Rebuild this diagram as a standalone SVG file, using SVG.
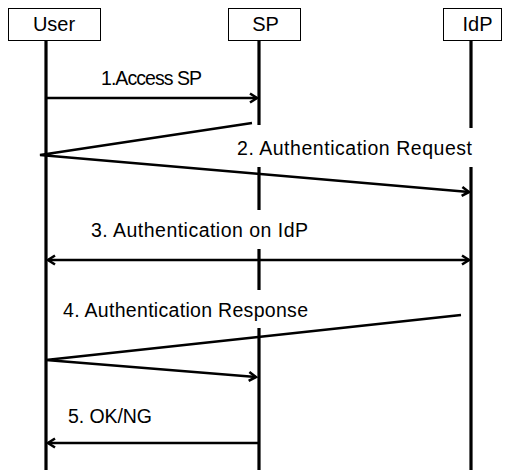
<svg xmlns="http://www.w3.org/2000/svg" width="511" height="470" viewBox="0 0 511 470">
<style>
.box{fill:#fff;stroke:#000;stroke-width:1}
.hd{font-family:"Liberation Sans",Arial,sans-serif;font-size:20px;fill:#000;text-anchor:middle}
.life{stroke:#000;stroke-width:3.2;fill:none}
.msg{stroke:#000;stroke-width:2.6;fill:none;stroke-linejoin:miter}
.lbl{font-family:"Liberation Sans",Arial,sans-serif;font-size:19.5px;fill:#000}
</style>
<defs>
<marker id="ah" viewBox="0 0 12 12" refX="10" refY="6" markerWidth="12" markerHeight="12" markerUnits="userSpaceOnUse" orient="auto-start-reverse">
<polyline points="3,1.5 10,6 3,10.5" fill="none" stroke="#000" stroke-width="2.6"/>
</marker>
</defs>
<g id="user">
<rect class="box" x="8.5" y="8.5" width="92" height="32"/>
<text class="hd" x="54" y="31">User</text>
</g>
<g id="sp">
<rect class="box" x="228.5" y="8.5" width="72" height="32"/>
<text class="hd" x="265.5" y="31">SP</text>
</g>
<g id="idp">
<rect class="box" x="443.5" y="8.5" width="58" height="32"/>
<text class="hd" x="477.5" y="31">IdP</text>
</g>
<g id="lifelines">
<line class="life" x1="46" y1="40" x2="46" y2="470"/>
<line class="life" x1="259" y1="40" x2="259" y2="125"/>
<line class="life" x1="259" y1="167" x2="259" y2="210"/>
<line class="life" x1="259" y1="249" x2="259" y2="290"/>
<line class="life" x1="259" y1="328" x2="259" y2="470"/>
<line class="life" x1="471" y1="40" x2="471" y2="128"/>
<line class="life" x1="471" y1="167" x2="471" y2="470"/>
</g>
<g id="connectors">
<line class="msg" x1="46" y1="98" x2="257" y2="98" marker-end="url(#ah)"/>
<polyline class="msg" points="252,123 40,155 469,192" marker-end="url(#ah)"/>
<line class="msg" x1="48" y1="260" x2="469" y2="260" marker-start="url(#ah)" marker-end="url(#ah)"/>
<polyline class="msg" points="461,315 46,360 256,377" marker-end="url(#ah)"/>
<line class="msg" x1="259" y1="443" x2="48" y2="443" marker-end="url(#ah)"/>
</g>
<g id="labels">
<text class="lbl" x="101" y="85" textLength="101">1.Access SP</text>
<text class="lbl" x="472" y="155" text-anchor="end" textLength="235">2. Authentication Request</text>
<text class="lbl" x="91" y="237" textLength="217">3. Authentication on IdP</text>
<text class="lbl" x="63" y="317" textLength="245">4. Authentication Response</text>
<text class="lbl" x="68" y="423" textLength="84">5. OK/NG</text>
</g>
</svg>
